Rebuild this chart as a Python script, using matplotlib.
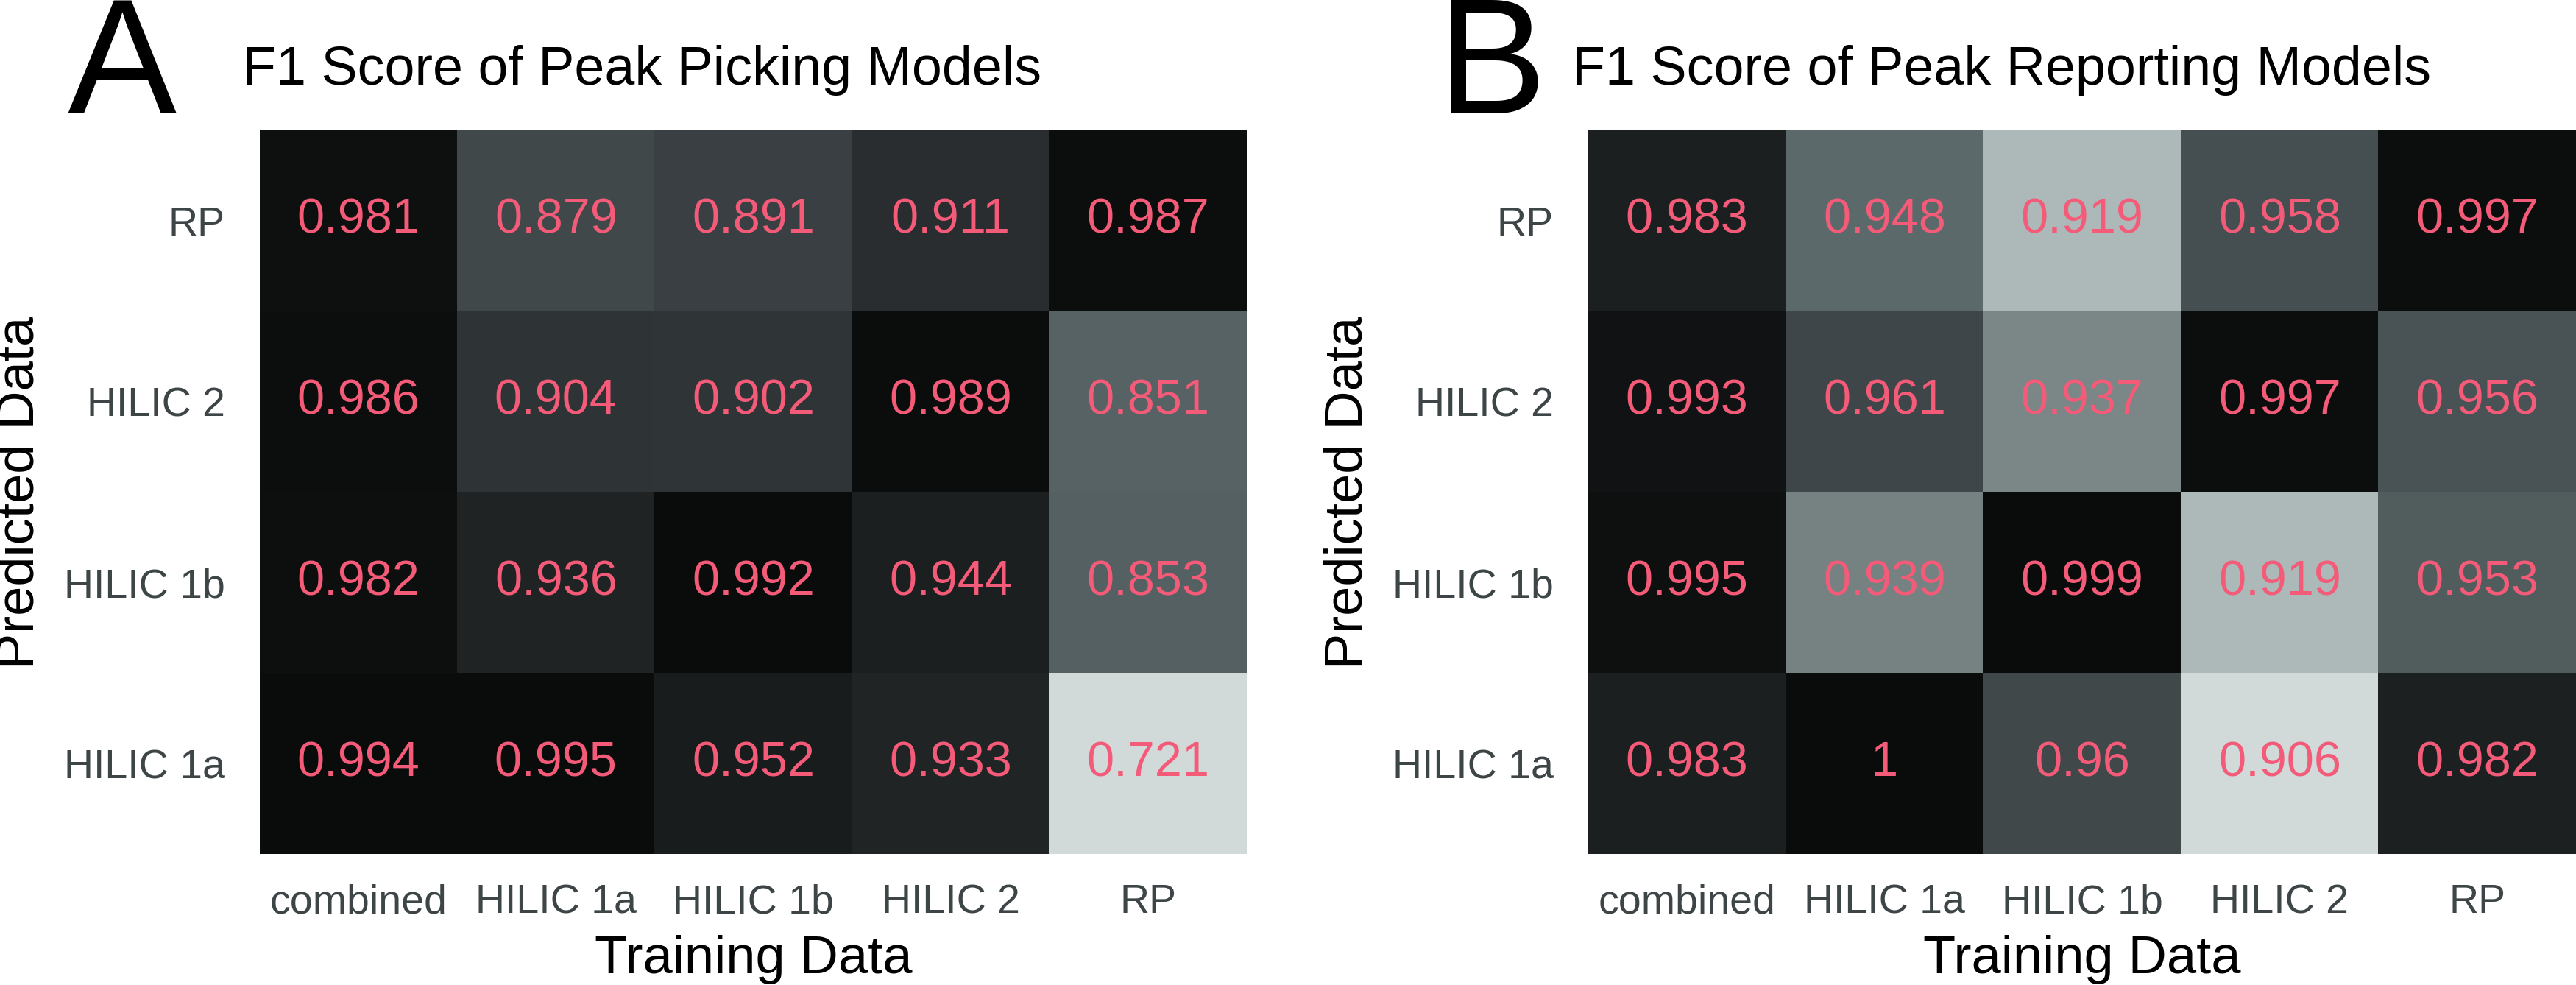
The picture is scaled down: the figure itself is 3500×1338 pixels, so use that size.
import matplotlib
matplotlib.use("Agg")
import matplotlib.pyplot as plt
from matplotlib.colors import LinearSegmentedColormap
import numpy as np

# categories
train_labels = ["combined", "HILIC 1a", "HILIC 1b", "HILIC 2", "RP"]
pred_labels = ["RP", "HILIC 2", "HILIC 1b", "HILIC 1a"]   # top to bottom

# F1 scores, rows = predicted data (top to bottom), cols = training data
picking_f1 = [
    [0.981, 0.879, 0.891, 0.911, 0.987],
    [0.986, 0.904, 0.902, 0.989, 0.851],
    [0.982, 0.936, 0.992, 0.944, 0.853],
    [0.994, 0.995, 0.952, 0.933, 0.721],
]
reporting_f1 = [
    [0.983, 0.948, 0.919, 0.958, 0.997],
    [0.993, 0.961, 0.937, 0.997, 0.956],
    [0.995, 0.939, 0.999, 0.919, 0.953],
    [0.983, 1.000, 0.960, 0.906, 0.982],
]

titles = ["F1 Score of Peak Picking Models", "F1 Score of Peak Reporting Models"]
panel_letters = ["A", "B"]

plt.rcParams['font.family'] = ['Liberation Sans', 'DejaVu Sans']

# grey ramp, light for low scores -> near black for high
grey_map = LinearSegmentedColormap.from_list("greys", [
    (0.00, "#d1d9d9"),
    (0.14, "#adb8b8"),
    (0.33, "#7b8687"),
    (0.47, "#576465"),
    (0.57, "#424a4c"),
    (0.62, "#393f42"),
    (0.69, "#2a2e30"),
    (0.77, "#222526"),
    (0.84, "#1a1d1e"),
    (0.95, "#0e1010"),
    (1.00, "#0a0c0b"),
])

W, H = 3500, 1338
fig = plt.figure(figsize=(W / 100, H / 100), dpi=100)

tick_col = "#3d4547"
num_col = "#f45b79"

# axes boxes in pixels: left, top, right, bottom
boxes = [(353, 177, 1694, 1160), (2158, 177, 3500, 1160)]
letter_x = [92, 1953]
title_x = [330, 2136]
ylabel_x = [27, 1832]

for i, data in enumerate([picking_f1, reporting_f1]):
    l, t, r, b = boxes[i]
    ax = fig.add_axes([l / W, 1 - b / H, (r - l) / W, (b - t) / H])
    vals = np.array(data)
    ax.imshow(vals, cmap=grey_map, vmin=vals.min(), vmax=vals.max(),
              aspect="auto", interpolation="nearest")

    for row in range(len(pred_labels)):
        for col in range(len(train_labels)):
            ax.text(col, row, f"{vals[row, col]:g}", ha="center", va="center",
                    color=num_col, fontsize=48)

    ax.set_xticks(range(len(train_labels)))
    ax.set_xticklabels(train_labels)
    ax.set_yticks(range(len(pred_labels)))
    ax.set_yticklabels(pred_labels)
    ax.tick_params(axis="x", length=0, pad=29, labelsize=40, labelcolor=tick_col)
    ax.tick_params(axis="y", length=0, pad=34, labelsize=40, labelcolor=tick_col)
    for s in ax.spines.values():
        s.set_visible(False)

    fig.text((l + r) / 2 / W, 1 - 1322 / H, "Training Data", ha="center",
             va="baseline", fontsize=52, color="black")
    fig.text(ylabel_x[i] / W, 1 - (t + b) / 2 / H, "Predicted Data", ha="center",
             va="center", rotation=90, fontsize=52, color="black")
    fig.text(title_x[i] / W, 1 - 115 / H, titles[i], ha="left", va="baseline",
             fontsize=53, color="black")
    fig.text(letter_x[i] / W, 1 - 154 / H, panel_letters[i], ha="left",
             va="baseline", fontsize=160, color="black")

fig.savefig("out.png", dpi=100, facecolor="white")
